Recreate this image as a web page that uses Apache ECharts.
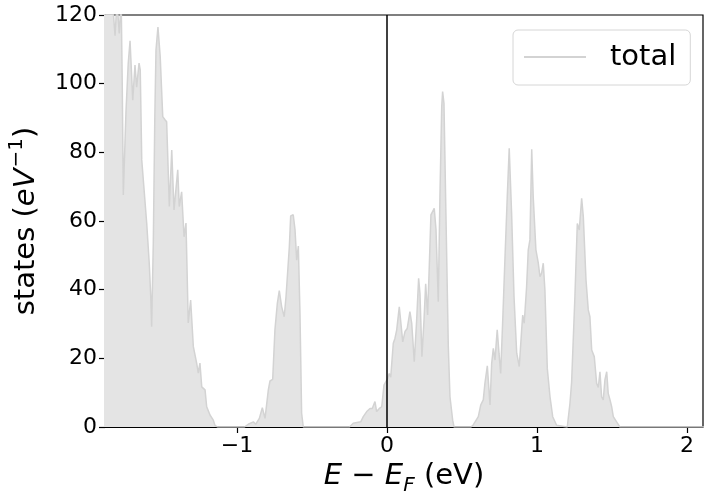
<!DOCTYPE html>
<html>
<head>
<meta charset="utf-8">
<script src="https://cdn.jsdelivr.net/npm/echarts@6/dist/echarts.min.js"></script>
<style>html,body{margin:0;padding:0;background:#fff}#c{width:704px;height:497px}</style>
</head>
<body>
<div id="c"></div>
<script>
const seriesName = 'total';
const xTicks = [-1, 0, 1, 2];
const xTickLabels = ['\u22121', '0', '1', '2'];
const energy = [-1.90,-1.87,-1.84,-1.825,-1.813,-1.80,-1.785,-1.772,-1.765,-1.758,-1.74,-1.725,-1.713,-1.695,-1.68,-1.669,-1.653,-1.645,-1.635,-1.602,-1.585,-1.575,-1.569,-1.558,-1.548,-1.54,-1.527,-1.52,-1.512,-1.495,-1.48,-1.469,-1.451,-1.435,-1.42,-1.395,-1.385,-1.369,-1.353,-1.34,-1.325,-1.309,-1.291,-1.269,-1.258,-1.247,-1.235,-1.213,-1.202,-1.18,-1.158,-1.147,-1.13,
-0.95,-0.925,-0.891,-0.875,-0.851,-0.831,-0.813,-0.791,-0.78,-0.762,-0.747,-0.731,-0.718,-0.702,-0.685,-0.673,-0.662,-0.651,-0.642,-0.625,-0.613,-0.602,-0.591,-0.58,-0.569,-0.558,
-0.25,-0.225,-0.175,-0.158,-0.135,-0.113,-0.098,-0.08,-0.069,-0.051,-0.035,-0.02,-0.007,0.005,0.015,0.025,0.042,0.053,0.065,0.082,0.093,0.105,0.12,0.135,0.153,0.165,0.182,0.198,0.211,0.22,0.233,0.247,0.258,0.271,0.282,0.293,0.305,0.315,0.327,0.342,0.353,0.365,0.371,0.38,0.393,0.409,0.42,0.438,0.447,
0.56,0.575,0.609,0.625,0.642,0.653,0.669,0.687,0.698,0.709,0.72,0.735,0.747,0.758,0.771,0.787,0.802,0.815,0.831,0.847,0.865,0.882,0.898,0.905,0.915,0.931,0.942,0.953,0.965,0.975,0.993,1.009,1.02,1.031,1.042,1.053,1.069,1.087,1.105,1.131,
1.202,1.22,1.231,1.253,1.269,1.282,1.298,1.309,1.327,1.342,1.353,1.365,1.382,1.398,1.409,1.42,1.431,1.442,1.453,1.465,1.475,1.487,1.498,1.509,1.531,1.553,2.2];
const totalStates = [130,128,125,121,114,124,114.6,124,100,67.6,92,106,112.5,95.2,105.4,99,106,104,77.8,59.4,47.7,38,29.2,53.6,90,109.8,116.5,116.6,108,90.4,89.5,88.9,64.2,80.7,63.2,74.9,64.2,68.5,55.4,59.4,30.3,37,23.4,18.6,15.7,18.6,11.7,10.8,5.9,3.5,2,0.5,0,
0,0.8,1.5,0.8,2.5,5.6,2.5,10.8,13.4,13.9,28.3,36,39.7,35,32.1,38,38.5,52.5,61.5,61.8,57.4,48.6,52.7,33.1,4,0,
0,1.1,1.5,3,4.5,5.4,5.4,7.4,4.5,5.4,5.9,12.2,12.7,14.2,15.6,14.5,24.4,25.8,28.3,35,30.2,24.8,27.8,28.7,33.6,30.2,19,31.2,43.3,38.9,20.5,31.2,41.7,32.6,46.7,61.8,61.5,63.7,57.4,36.5,67.1,93.3,97.7,94.3,62.2,23.4,8.8,2,0,
0,0.6,3,6.4,7.9,12.7,17.8,6.4,18.5,22.9,19.5,28.3,21.5,15.6,30.2,49.6,67.1,81.2,62.2,38,21.5,17.6,28.3,32.6,30.2,40.9,51.6,54.5,80.9,67.1,51.6,47.7,43.8,44.8,47.7,39.9,17,8.8,3,0.5,
0,6.9,13,38,59.3,57.4,66.6,61.3,42.8,34.1,32.1,22.4,20.5,12.7,11.5,16.1,8.8,7.9,13.7,16.1,9.8,7.9,5.9,3,1.5,0,0];

const data = energy.map((e, i) => [e, totalStates[i]]);
const font = 'DejaVu Sans';
const T = 29;
const chart = echarts.init(document.getElementById('c'), null, {renderer: 'canvas'});
chart.setOption({
  animation: false,
  backgroundColor: '#fff',
  grid: {left: 105, right: 1, top: 15, bottom: 70, show: true, borderColor: '#000', borderWidth: 1.2,
    backgroundColor: 'transparent', containLabel: false, outerBoundsMode: 'none'},
  legend: {
    left: 513, top: 30, orient: 'horizontal',
    data: [{name: seriesName, icon: 'rect'}],
    itemWidth: 62, itemHeight: 2,
    borderColor: '#d6d6d6', borderWidth: 1, borderRadius: 5,
    padding: [10, 14, 11, 11],
    backgroundColor: '#fff',
    textStyle: {fontFamily: font, fontSize: T, lineHeight: 34, color: '#000', padding: [0, 0, 0, 19]}
  },
  xAxis: {
    type: 'value', min: -1.88, max: 2.107,
    axisLine: {show: true, onZero: false, lineStyle: {color: '#000', width: 1.2}},
    axisTick: {show: true, inside: false, length: 6, lineStyle: {color: '#000', width: 1.2}, customValues: xTicks},
    axisLabel: {show: true, margin: 8, fontFamily: font, fontSize: 22, color: '#000', customValues: xTicks,
      formatter: v => { const i = xTicks.indexOf(Math.round(v)); return i >= 0 ? xTickLabels[i] : ''; }},
    splitLine: {show: false},
    name: '{i|E}{n| \u2212 }{i|E}{sub|F}{n| (eV)}',
    nameLocation: 'middle', nameGap: 30,
    nameTextStyle: {
      fontFamily: font, fontSize: T, color: '#000',
      rich: {
        i: {fontFamily: font, fontStyle: 'italic', fontSize: T, lineHeight: 34, color: '#000', verticalAlign: 'top'},
        n: {fontFamily: font, fontSize: T, lineHeight: 34, color: '#000', verticalAlign: 'top'},
        sub: {fontFamily: font, fontStyle: 'italic', fontSize: 20, lineHeight: 20, color: '#000', verticalAlign: 'bottom', padding: [14, 0, 0, 0]}
      }
    }
  },
  yAxis: {
    type: 'value', min: 0, max: 120, interval: 20,
    axisLine: {show: true, onZero: false, lineStyle: {color: '#000', width: 1.2}},
    axisTick: {show: true, inside: false, length: 6, lineStyle: {color: '#000', width: 1.2}},
    axisLabel: {margin: 8, fontFamily: font, fontSize: 22, color: '#000'},
    splitLine: {show: false},
    name: '{n|states (}{i|eV}{sup|\u22121}{n|)}',
    nameLocation: 'middle', nameGap: 62, nameRotate: 90,
    nameTextStyle: {
      fontFamily: font, fontSize: T, color: '#000',
      rich: {
        i: {fontFamily: font, fontStyle: 'italic', fontSize: T, lineHeight: 34, color: '#000', verticalAlign: 'bottom'},
        n: {fontFamily: font, fontSize: T, lineHeight: 34, color: '#000', verticalAlign: 'bottom'},
        sup: {fontFamily: font, fontSize: 20, lineHeight: 20, color: '#000', verticalAlign: 'top', padding: [0, 0, 17, 1]}
      }
    }
  },
  series: [{
    name: seriesName,
    type: 'line',
    data: data,
    showSymbol: false,
    symbol: 'none',
    clip: true,
    lineStyle: {color: '#d3d3d3', width: 1.5},
    itemStyle: {color: '#d3d3d3'},
    areaStyle: {color: '#e4e4e4', opacity: 1, origin: 'start'},
    markLine: {
      silent: true, symbol: 'none', animation: false,
      label: {show: false},
      lineStyle: {color: '#000', width: 1.5, type: 'solid'},
      data: [{xAxis: 0}]
    },
    z: 2
  }]
});
</script>
</body>
</html>
